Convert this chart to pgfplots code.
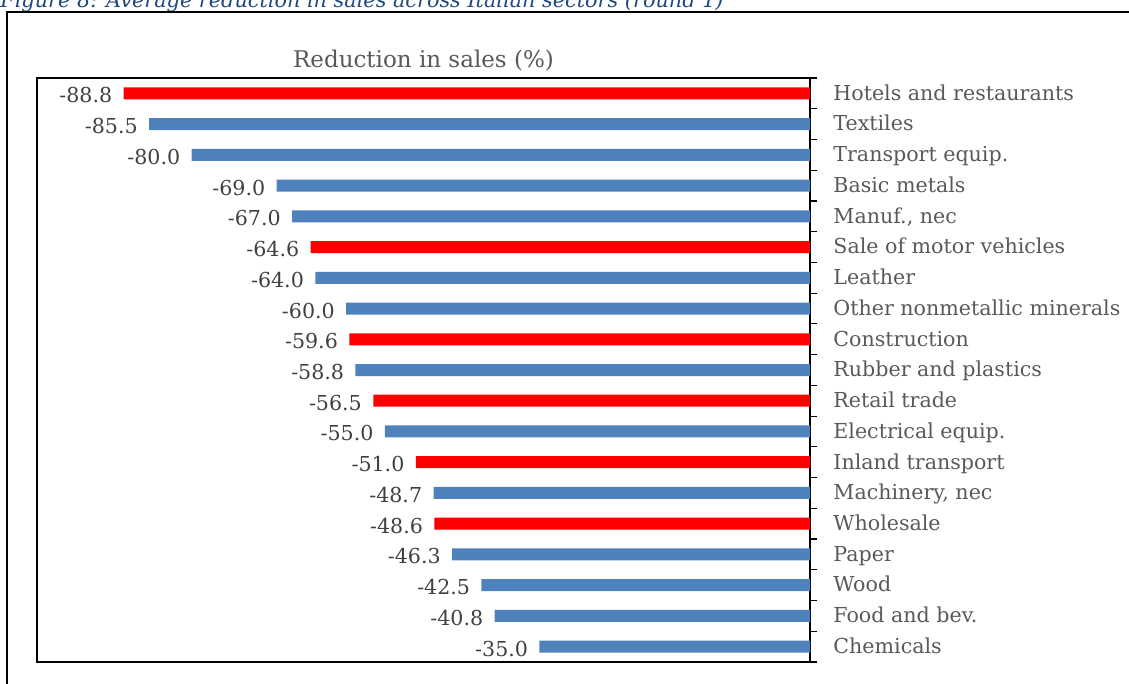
\documentclass[border=0pt]{standalone}
\usepackage{pgfplots}
\pgfplotsset{compat=1.18}
\usepackage{fontspec}
\setmainfont{DejaVu Serif}
\definecolor{barblue}{HTML}{4F81BD}
\definecolor{barred}{HTML}{FF0000}
\definecolor{txtgray}{HTML}{595959}
\definecolor{lblgray}{HTML}{404040}
\definecolor{capblue}{HTML}{1F497D}
\begin{document}
\begin{tikzpicture}[x=1pt,y=1pt]
\useasboundingbox (0,0) rectangle (564.5,342);
\node[anchor=base west, inner sep=0pt, font=\itshape\fontsize{10.4}{12}\selectfont, text=capblue] at (0,338.3) {Figure 8: Average reduction in sales across Italian sectors (round 1)};
\draw[line width=1pt] (3.5,-10) -- (3.5,336) -- (600,336);
\begin{axis}[
  at={(18.5pt,11pt)}, anchor=south west,
  scale only axis, width=386.5pt, height=292pt,
  xbar, bar width=6pt,
  xmin=-100, xmax=0, ymin=-0.5, ymax=18.5,
  y dir=reverse,
  xtick=\empty,
  ytick={0,...,18},
  yticklabels={Hotels and restaurants,Textiles,Transport equip.,Basic metals,{Manuf., nec},Sale of motor vehicles,Leather,Other nonmetallic minerals,Construction,Rubber and plastics,Retail trade,Electrical equip.,Inland transport,{Machinery, nec},Wholesale,Paper,Wood,Food and bev.,Chemicals},
  typeset ticklabels with strut,
  ytick pos=right, yticklabel pos=right,
  major tick length=0pt,
  minor ytick={-0.5,0.5,...,18.5},
  minor tick length=3.5pt,
  tick align=outside,
  tick style={black, line width=0.6pt},
  axis line style={black, line width=0.8pt},
  yticklabel style={font=\fontsize{10.3}{12}\selectfont, text=txtgray, anchor=west, inner sep=0pt, xshift=11.5pt, yshift=-1pt},
  title={Reduction in sales (\%)},
  title style={font=\fontsize{11.5}{13}\selectfont, text=txtgray, at={(0.5,1)}, anchor=center, yshift=2.5pt},
  nodes near coords={\pgfmathprintnumber[fixed,fixed zerofill,precision=1,assume math mode=true]{\pgfplotspointmeta}},
  point meta=x,
  every node near coord/.append style={anchor=east, inner sep=0pt, xshift=-5.5pt, yshift=-1.5pt, font=\fontsize{10.3}{12}\selectfont, text=lblgray, text height=1.5ex, text depth=0.25ex},
  clip=false,
]
\addplot[draw=none, fill=barred, bar shift=0pt] coordinates {
(-88.8,0) (-64.6,5) (-59.6,8) (-56.5,10) (-51.0,12) (-48.6,14)
};
\addplot[draw=none, fill=barblue, bar shift=0pt] coordinates {
(-85.5,1) (-80.0,2) (-69.0,3) (-67.0,4) (-64.0,6) (-60.0,7) (-58.8,9) (-55.0,11) (-48.7,13) (-46.3,15) (-42.5,16) (-40.8,17) (-35.0,18)
};
\end{axis}
\end{tikzpicture}
\end{document}
